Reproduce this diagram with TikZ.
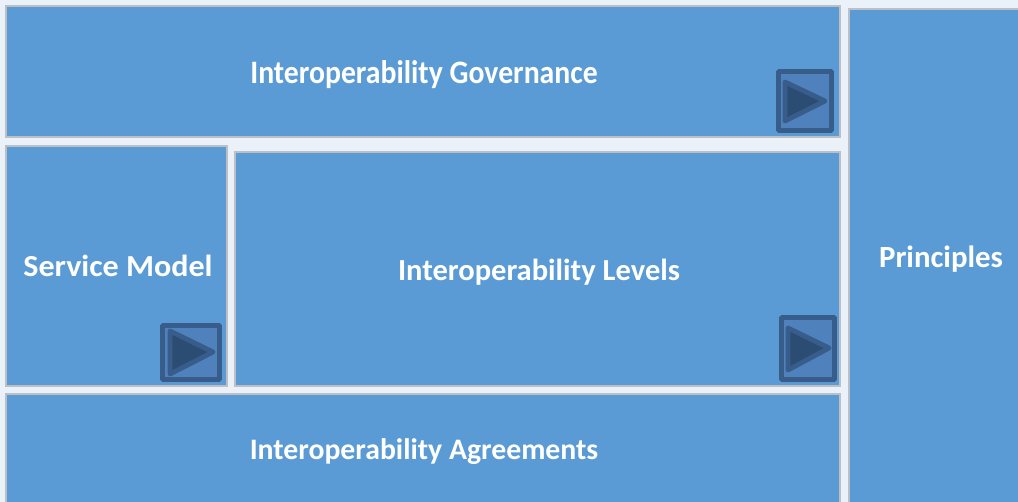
\documentclass[tikz,border=0pt]{standalone}
\usepackage{fontspec}
\setmainfont{Carlito}
\definecolor{boxblue}{HTML}{5B9BD5}
\definecolor{edgegray}{HTML}{BCC0C4}
\definecolor{gapblue}{HTML}{EBF1F8}
\definecolor{iconfill}{HTML}{4F81BD}
\definecolor{iconedge}{HTML}{385D8A}
\definecolor{tridark}{HTML}{2C4D73}
\tikzset{
  panel/.style={draw=edgegray,line width=1.5pt,fill=boxblue},
  iconbox/.style={draw=iconedge,line width=3.6pt,fill=iconfill,rounded corners=0.6pt},
  icontri/.style={draw=iconedge,line width=3.6pt,fill=tridark,line join=round},
  lab/.style={text=white,inner sep=0pt}
}
\begin{document}
\begin{tikzpicture}[x=0.75pt,y=-0.75pt]
\useasboundingbox (0,0) rectangle (1018,502);
\fill[gapblue] (0,0) rectangle (1018,502);
\draw[panel] (6,6) rectangle (840,137);
\draw[panel] (6,146) rectangle (227,386);
\draw[panel] (234.5,152) rectangle (840,386);
\draw[panel] (6,394) rectangle (840,510);
\draw[panel] (849,9) rectangle (1030,510);
\node[lab,font=\bfseries\fontsize{22.3}{24}\selectfont,transform shape,yscale=1.1] (gov) at (424,74.5) {Interoperability Governance};
\node[lab,font=\bfseries\fontsize{22.9}{24}\selectfont,transform shape,xscale=1.05] (svc) at (118,266) {Service Model};
\node[lab,font=\bfseries\fontsize{22.9}{24}\selectfont] (lev) at (539,272) {Interoperability Levels};
\node[lab,font=\bfseries\fontsize{22.3}{24}\selectfont] (agr) at (424,452) {Interoperability Agreements};
\node[lab,font=\bfseries\fontsize{23.1}{24}\selectfont] (pri) at (941,259) {Principles};
\draw[iconbox] (778.5,71.5) rectangle (831.5,130.5);
\draw[icontri] (785,82) -- (825,101) -- (785,121) -- cycle;
\draw[iconbox] (162.5,325.5) rectangle (219.5,379.5);
\draw[icontri] (170,331) -- (213,352) -- (170,374) -- cycle;
\draw[iconbox] (781.5,317.5) rectangle (834.5,379.5);
\draw[icontri] (788,328) -- (829,348) -- (788,370) -- cycle;
\end{tikzpicture}
\end{document}
